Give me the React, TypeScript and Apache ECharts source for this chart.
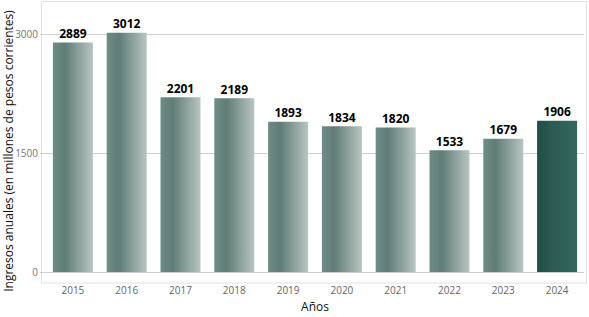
import React, { useEffect, useRef } from "react";
import * as echarts from "echarts";

const years = ["2015", "2016", "2017", "2018", "2019", "2020", "2021", "2022", "2023", "2024"];
const ingresos = [2889, 3012, 2201, 2189, 1893, 1834, 1820, 1533, 1679, 1906];
const highlightYear = "2024";

const FONT = "'Open Sans', 'Noto Sans', sans-serif";

const normalGrad = new echarts.graphic.LinearGradient(0, 0, 1, 0, [
  { offset: 0, color: "#6f8c87" },
  { offset: 0.3, color: "#5f7c76" },
  { offset: 1, color: "#b8c5c2" },
]);
const highlightGrad = new echarts.graphic.LinearGradient(0, 0, 1, 0, [
  { offset: 0, color: "#214c45" },
  { offset: 0.35, color: "#2a5a52" },
  { offset: 1, color: "#36675f" },
]);

export default function App() {
  const ref = useRef<HTMLDivElement>(null);
  useEffect(() => {
    if (!ref.current) return;
    document.body.style.margin = "0";
    const chart = echarts.init(ref.current, undefined, { renderer: "svg" });
    chart.setOption({
      animation: false,
      backgroundColor: "#ffffff",
      textStyle: { fontFamily: FONT },
      grid: { left: 46, right: 5, top: 2, bottom: 43 },
      graphic: [
        {
          type: "rect",
          shape: { x: 41.5, y: 1.5, width: 545, height: 281.5 },
          style: { fill: "none", stroke: "#e2e2e2", lineWidth: 1 },
          silent: true,
          z: -1,
        },
        {
          type: "text",
          x: 8,
          y: 151,
          rotation: Math.PI / 2,
          style: {
            text: "Ingresos anuales (en millones de pesos corrientes)",
            fontFamily: FONT,
            fontSize: 12,
            fill: "#111",
            align: "center",
            verticalAlign: "middle",
          },
        },
      ],
      xAxis: {
        type: "category",
        data: years,
        axisLine: { show: false },
        axisTick: { show: false },
        axisLabel: { color: "#666", fontSize: 10, margin: 13, fontFamily: FONT },
        name: "Años",
        nameLocation: "middle",
        nameGap: 28,
        nameTextStyle: { color: "#111", fontSize: 12, fontFamily: FONT },
      },
      yAxis: {
        type: "value",
        min: 0,
        max: 3400,
        interval: 1500,
        axisLine: { show: false },
        axisTick: { show: true, length: 6, lineStyle: { color: "#cfcfcf" } },
        axisLabel: {
          color: "#777",
          fontSize: 10,
          margin: 8,
          showMaxLabel: false,
          fontFamily: FONT,
          formatter: (v: number) => String(v),
        },
        splitLine: { show: true, showMaxLine: false, lineStyle: { color: "#cfcfcf" } },
      },
      series: [
        {
          type: "bar",
          barWidth: 40,
          data: ingresos.map((v, i) => ({
            value: v,
            itemStyle: { color: years[i] === highlightYear ? highlightGrad : normalGrad },
          })),
          label: {
            show: true,
            position: "top",
            distance: 3,
            color: "#000",
            fontWeight: "bold",
            fontSize: 12,
            fontFamily: FONT,
          },
        },
      ],
    });
    return () => chart.dispose();
  }, []);
  return <div ref={ref} style={{ position: "absolute", left: 0, top: 0, width: 589, height: 317 }} />;
}
